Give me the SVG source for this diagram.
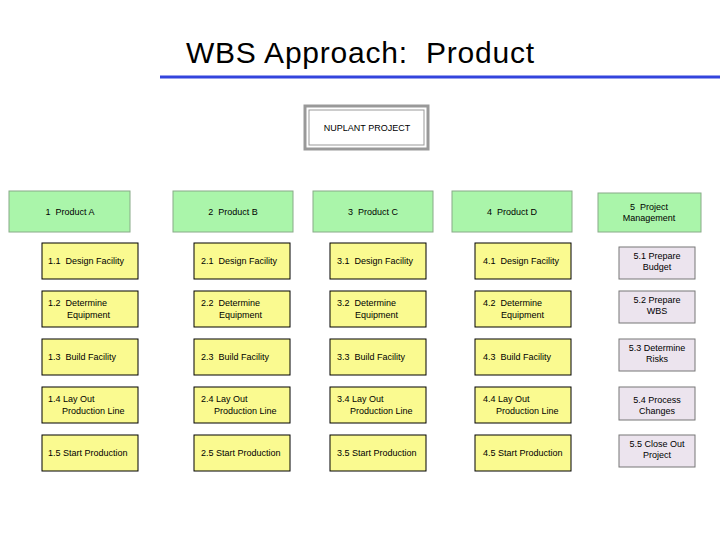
<svg xmlns="http://www.w3.org/2000/svg" width="720" height="540" viewBox="0 0 720 540">
<style>
text{font-family:"Liberation Sans",Arial,sans-serif;font-size:9px;fill:#000;white-space:pre}
.g{fill:#aaf5aa;stroke:#88aa88;stroke-width:1}
.y{fill:#fafa90;stroke:#000;stroke-width:1}
.p{fill:#ece4ee;stroke:#777;stroke-width:1}
.c{text-anchor:middle}
</style>
<rect width="720" height="540" fill="#fff"/>
<text x="360" y="63" class="c" style="font-size:30px" textLength="348">WBS Approach:  Product</text>
<line x1="160" y1="77" x2="720" y2="77" stroke="#3344dd" stroke-width="3"/>
<g id="root"><rect x="305" y="106" width="123" height="43" fill="#fff" stroke="#999" stroke-width="3"/><rect x="309" y="110" width="115" height="35" fill="none" stroke="#999" stroke-width="1"/><text x="367" y="131" class="c">NUPLANT PROJECT</text></g>
<g id="connectors"></g>
<g id="n1"><rect class="g" x="9" y="191" width="121" height="41"/><text x="70" y="215" class="c">1  Product A</text></g>
<g id="n2"><rect class="g" x="173" y="191" width="120" height="41"/><text x="233" y="215" class="c">2  Product B</text></g>
<g id="n3"><rect class="g" x="313" y="191" width="120" height="41"/><text x="373" y="215" class="c">3  Product C</text></g>
<g id="n4"><rect class="g" x="452" y="191" width="120" height="41"/><text x="512" y="215" class="c">4  Product D</text></g>
<g id="n5"><rect class="g" x="598" y="193" width="103" height="39"/><text x="649" y="210" class="c">5  Project</text><text x="649" y="221" class="c">Management</text></g>
<g id="n11"><rect class="y" x="42" y="243" width="96" height="36"/><text x="48" y="264">1.1  Design Facility</text></g>
<g id="n12"><rect class="y" x="42" y="291" width="96" height="36"/><text x="48" y="306">1.2  Determine</text><text x="67" y="318">Equipment</text></g>
<g id="n13"><rect class="y" x="42" y="339" width="96" height="36"/><text x="48" y="360">1.3  Build Facility</text></g>
<g id="n14"><rect class="y" x="42" y="387" width="96" height="36"/><text x="48" y="402">1.4 Lay Out</text><text x="62" y="414">Production Line</text></g>
<g id="n15"><rect class="y" x="42" y="435" width="96" height="36"/><text x="48" y="456">1.5 Start Production</text></g>
<g id="n21"><rect class="y" x="194" y="243" width="96" height="36"/><text x="201" y="264">2.1  Design Facility</text></g>
<g id="n22"><rect class="y" x="194" y="291" width="96" height="36"/><text x="201" y="306">2.2  Determine</text><text x="219" y="318">Equipment</text></g>
<g id="n23"><rect class="y" x="194" y="339" width="96" height="36"/><text x="201" y="360">2.3  Build Facility</text></g>
<g id="n24"><rect class="y" x="194" y="387" width="96" height="36"/><text x="201" y="402">2.4 Lay Out</text><text x="214" y="414">Production Line</text></g>
<g id="n25"><rect class="y" x="194" y="435" width="96" height="36"/><text x="201" y="456">2.5 Start Production</text></g>
<g id="n31"><rect class="y" x="330" y="243" width="96" height="36"/><text x="337" y="264">3.1  Design Facility</text></g>
<g id="n32"><rect class="y" x="330" y="291" width="96" height="36"/><text x="337" y="306">3.2  Determine</text><text x="355" y="318">Equipment</text></g>
<g id="n33"><rect class="y" x="330" y="339" width="96" height="36"/><text x="337" y="360">3.3  Build Facility</text></g>
<g id="n34"><rect class="y" x="330" y="387" width="96" height="36"/><text x="337" y="402">3.4 Lay Out</text><text x="350" y="414">Production Line</text></g>
<g id="n35"><rect class="y" x="330" y="435" width="96" height="36"/><text x="337" y="456">3.5 Start Production</text></g>
<g id="n41"><rect class="y" x="475" y="243" width="96" height="36"/><text x="483" y="264">4.1  Design Facility</text></g>
<g id="n42"><rect class="y" x="475" y="291" width="96" height="36"/><text x="483" y="306">4.2  Determine</text><text x="501" y="318">Equipment</text></g>
<g id="n43"><rect class="y" x="475" y="339" width="96" height="36"/><text x="483" y="360">4.3  Build Facility</text></g>
<g id="n44"><rect class="y" x="475" y="387" width="96" height="36"/><text x="483" y="402">4.4 Lay Out</text><text x="496" y="414">Production Line</text></g>
<g id="n45"><rect class="y" x="475" y="435" width="96" height="36"/><text x="483" y="456">4.5 Start Production</text></g>
<g id="n51"><rect class="p" x="619" y="247" width="76" height="32"/><text x="657" y="259" class="c">5.1 Prepare</text><text x="657" y="270" class="c">Budget</text></g>
<g id="n52"><rect class="p" x="619" y="291" width="76" height="32"/><text x="657" y="303" class="c">5.2 Prepare</text><text x="657" y="314" class="c">WBS</text></g>
<g id="n53"><rect class="p" x="619" y="339" width="76" height="32"/><text x="657" y="351" class="c">5.3 Determine</text><text x="657" y="362" class="c">Risks</text></g>
<g id="n54"><rect class="p" x="619" y="387" width="76" height="33"/><text x="657" y="403" class="c">5.4 Process</text><text x="657" y="414" class="c">Changes</text></g>
<g id="n55"><rect class="p" x="619" y="435" width="76" height="32"/><text x="657" y="447" class="c">5.5 Close Out</text><text x="657" y="458" class="c">Project</text></g>
</svg>
